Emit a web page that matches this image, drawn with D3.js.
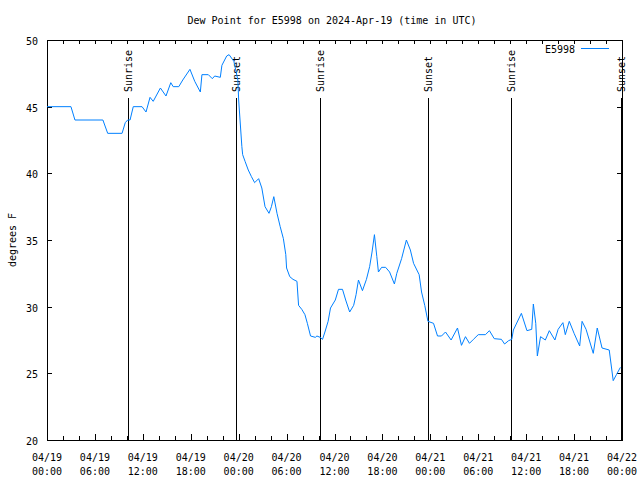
<!DOCTYPE html>
<html><head><meta charset="utf-8">
<script src="https://cdn.jsdelivr.net/npm/d3@7"></script>
<style>
body{margin:0;background:#fff;}
text{font-family:"DejaVu Sans Mono",monospace;font-size:10px;fill:#000;}
</style></head>
<body><svg id="c" width="640" height="480"></svg>
<script>
// Hours after 2024-04-19 00:00 UTC
const hours = [0.0,3.0,3.5,7.0,7.6,9.4,9.8,10.1,10.4,10.8,11.9,12.4,12.9,13.3,14.2,14.9,15.5,15.8,16.5,17.0,17.9,18.5,19.2,19.4,20.2,20.7,21.0,21.7,21.9,22.5,22.8,23.4,23.9,24.0,24.4,24.5,24.8,25.2,25.6,26.0,26.5,26.9,27.3,27.8,28.1,28.4,28.8,29.2,29.6,29.9,30.0,30.4,30.8,31.3,31.5,31.9,32.3,32.6,33.0,33.6,33.8,34.2,34.5,34.8,35.2,35.5,36.1,36.5,37.0,37.4,37.9,38.4,38.7,39.0,39.5,40.0,40.4,40.7,41.0,41.3,41.5,41.9,42.4,42.9,43.5,43.8,44.4,45.0,45.5,45.9,46.6,46.9,47.3,47.7,48.4,48.9,49.4,49.9,50.6,51.4,51.9,52.4,52.9,53.4,54.0,54.9,55.4,56.0,56.9,57.3,57.8,58.2,58.4,59.0,59.4,60.1,60.7,60.9,61.2,61.4,61.8,62.4,62.9,63.6,64.0,64.6,64.9,65.4,66.0,66.7,67.0,67.5,68.4,68.9,69.5,70.4,70.9,71.3,71.8];
const dewPoint = [45.0,45.0,44.0,44.0,43.0,43.0,43.8,44.0,44.0,45.0,45.0,44.6,45.7,45.4,46.4,45.8,46.8,46.5,46.5,47.0,47.8,46.9,46.1,47.4,47.4,47.1,47.3,47.2,48.1,48.8,48.9,48.4,47.0,45.5,42.0,41.4,40.9,40.25,39.75,39.3,39.6,38.9,37.5,37.0,37.5,38.25,37.0,36.0,35.1,33.9,32.9,32.25,32.05,31.9,30.1,29.8,29.4,28.75,27.8,27.7,27.8,27.7,27.55,28.1,28.9,29.9,30.5,31.3,31.3,30.5,29.6,30.1,30.9,32.0,31.2,32.05,33.0,34.1,35.4,33.75,32.6,32.95,32.95,32.6,31.7,32.5,33.6,35.0,34.25,33.25,32.4,31.1,30.1,28.9,28.75,27.8,27.8,28.1,27.5,28.4,27.1,27.75,27.25,27.55,27.9,27.9,28.2,27.6,27.55,27.2,27.45,27.55,28.25,29.0,29.5,28.2,28.3,30.2,28.75,26.3,27.75,27.5,28.2,27.5,28.3,28.8,27.9,28.9,28.0,27.05,28.9,28.3,26.5,28.4,26.9,26.75,24.45,24.9,25.45];
const sunLabels = ["Sunrise","Sunset","Sunrise","Sunset","Sunrise","Sunset"];
const sunHours = [10.1,23.7,34.2,47.7,58.1,71.9];
const yTicks = [20,25,30,35,40,45,50];
const seriesName = "E5998";
const titleText = "Dew Point for E5998 on 2024-Apr-19 (time in UTC)";
const yLabel = "degrees F";

const t0 = Date.UTC(2024,3,19);
const toDate = h => new Date(t0 + h*3600000);
const L=47, R=622, T=40, B=440;
const x = d3.scaleUtc().domain([new Date(t0), toDate(72)]).range([L,R]);
const y = d3.scaleLinear().domain([20,50]).range([B,T]);
const svg = d3.select("#c");

// title
svg.append("text").attr("x",332).attr("y",20).attr("dy","0.35em").attr("text-anchor","middle").text(titleText);
// y label
svg.append("text").attr("transform","translate(12,240) rotate(-90)").attr("text-anchor","middle").attr("dy","0.35em").text(yLabel);

const major = x.ticks(d3.utcHour.every(6));
const minor = x.ticks(d3.utcHour.every(2));

// bottom axis
const gb = svg.append("g").attr("transform",`translate(0,${B})`).attr("shape-rendering","crispEdges")
  .call(d3.axisBottom(x).tickValues(minor).tickSize(-4).tickFormat(""));
gb.select(".domain").remove();
gb.selectAll("line").attr("stroke","#000");
const gb2 = svg.append("g").attr("transform",`translate(0,${B})`).attr("shape-rendering","crispEdges")
  .call(d3.axisBottom(x).tickValues(major).tickSize(-6).tickFormat(""));
gb2.select(".domain").remove();
gb2.selectAll("line").attr("stroke","#000");
const fmtD = d3.utcFormat("%m/%d"), fmtT = d3.utcFormat("%H:%M");
major.forEach(d=>{
  svg.append("text").attr("x",x(d)).attr("y",457).attr("dy","0.35em").attr("text-anchor","middle").text(fmtD(d));
  svg.append("text").attr("x",x(d)).attr("y",471).attr("dy","0.35em").attr("text-anchor","middle").text(fmtT(d));
});
// top axis (mirror)
const gt = svg.append("g").attr("transform",`translate(0,${T})`).attr("shape-rendering","crispEdges")
  .call(d3.axisTop(x).tickValues(minor).tickSize(-4).tickFormat(""));
gt.select(".domain").remove();
gt.selectAll("line").attr("stroke","#000");

// left axis
const gl = svg.append("g").attr("transform",`translate(${L},0)`).attr("shape-rendering","crispEdges")
  .call(d3.axisLeft(y).tickValues(yTicks).tickSize(-5).tickPadding(9));
gl.select(".domain").remove();
gl.selectAll("line").attr("stroke","#000");
gl.selectAll("text").attr("font-family","DejaVu Sans Mono").attr("font-size",10).attr("fill","#000").attr("dy","0.45em");
const gr = svg.append("g").attr("transform",`translate(${R},0)`).attr("shape-rendering","crispEdges")
  .call(d3.axisRight(y).tickValues(yTicks).tickSize(-5).tickFormat(""));
gr.select(".domain").remove();
gr.selectAll("line").attr("stroke","#000");

// frame
svg.append("rect").attr("x",L+0.5).attr("y",T+0.5).attr("width",R-L).attr("height",B-T)
  .attr("fill","none").attr("stroke","#000").attr("shape-rendering","crispEdges");

// sun events
sunHours.forEach((h,i)=>{
  const xx = Math.round(x(toDate(h)))+0.5;
  svg.append("line").attr("x1",xx).attr("x2",xx).attr("y1",98).attr("y2",B)
    .attr("stroke","#000").attr("shape-rendering","crispEdges");
  svg.append("text").attr("transform",`translate(${xx},92) rotate(-90)`).attr("dy","0.35em").text(sunLabels[i]);
});

// data line
const data = hours.map((h,i)=>({t:toDate(h), v:dewPoint[i]}));
svg.append("path").datum(data)
  .attr("d", d3.line().x(d=>x(d.t)).y(d=>y(d.v)))
  .attr("fill","none").attr("stroke","#0080ff").attr("stroke-width",1);

// legend
svg.append("text").attr("x",575).attr("y",49).attr("dy","0.35em").attr("text-anchor","end").text(seriesName);
svg.append("line").attr("x1",581).attr("x2",609).attr("y1",48.5).attr("y2",48.5).attr("stroke","#0080ff").attr("shape-rendering","crispEdges");
</script></body></html>
